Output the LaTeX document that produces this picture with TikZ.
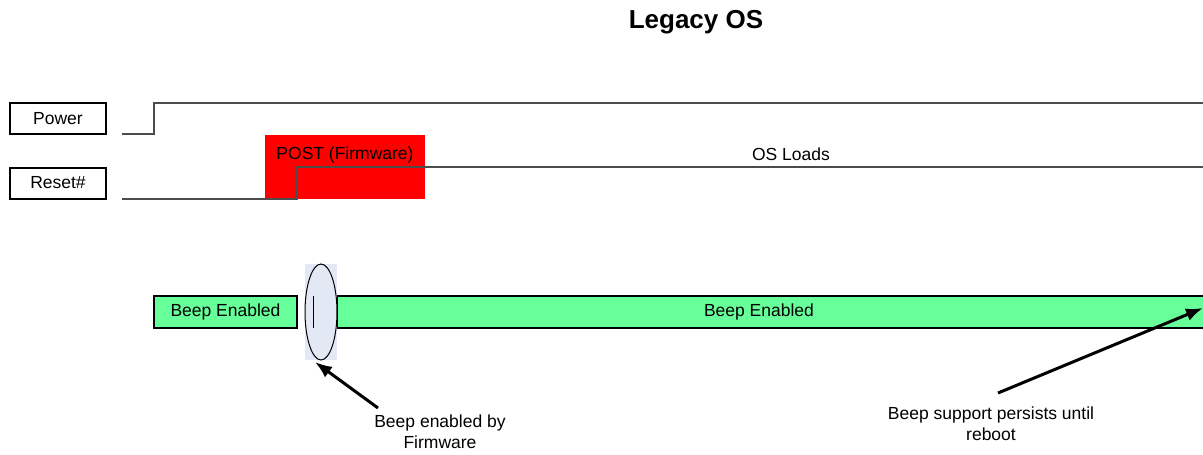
\documentclass[tikz,border=0pt]{standalone}
\usepackage{fontspec}
\setsansfont{Liberation Sans}
\usepackage{tikz}
\usetikzlibrary{arrows.meta}
\usetikzlibrary{shapes.geometric}
\tikzset{>={Latex[length=17pt,width=13pt]}}
\definecolor{beepgreen}{HTML}{66FF99}
\definecolor{halo}{HTML}{E3E8F5}

\begin{document}
\begin{tikzpicture}[x=1pt,y=-1pt,font=\sffamily\fontsize{17.5}{21}\selectfont,
	sigbox/.style={draw,line width=2pt,minimum width=96pt,minimum height=31pt,inner sep=0pt},
	beepbar/.style={draw,fill=beepgreen,line width=1.5pt,minimum height=32pt,inner sep=0pt},
	wave/.style={draw=black!70,line width=1.5pt},
	callout/.style={->,line width=3pt}]
	\useasboundingbox (0,0) rectangle (1203,455);
	\node[font=\sffamily\bfseries\fontsize{26}{30}\selectfont] (title) at (696,22) {Legacy OS};
	\node[sigbox] (pow) at (58,118.5) {Power};
	\node[sigbox] (rst) at (58,183) {Reset\#};
	\node[fill=red,minimum width=160pt,minimum height=64pt,inner sep=0pt] (post) at (345,167) {};
	\node (postlbl) at (345,155) {POST (Firmware)};
	\node (osl) at (791,154) {OS Loads};
	\draw[wave] (122,134) -- (154,134) -- (154,103) -- (1203,103);
	\draw[wave] (122,199) -- (297,199) -- (297,167) -- (1203,167);
	\node[beepbar,minimum width=143pt] (beep1) at (225.5,312) {Beep Enabled};
	\node[beepbar,minimum width=873pt] (beep2) at (773.5,312) {};
	\node (beep2lbl) at (759,312) {Beep Enabled};
	\node[fill=halo,minimum width=32pt,minimum height=96pt,inner sep=0pt] (hbox) at (321,312) {};
	\node[draw,ellipse,line width=1pt,minimum width=32pt,minimum height=96pt,inner sep=0pt] (ring) at (321,312) {};
	\draw[line width=1pt] (313,296) -- (313,328);
	\node[align=center] (note1) at (440,432) {Beep enabled by\\Firmware};
	\node[align=center] (note2) at (991,424) {Beep support persists until\\reboot};
	\coordinate (t1) at (378,408);
	\coordinate (h1) at (315,362);
	\coordinate (t2) at (998,393);
	\coordinate (h2) at (1203,308);
	\draw[callout] (t1) -- (h1);
	\draw[callout] (t2) -- (h2);
\end{tikzpicture}
\end{document}
